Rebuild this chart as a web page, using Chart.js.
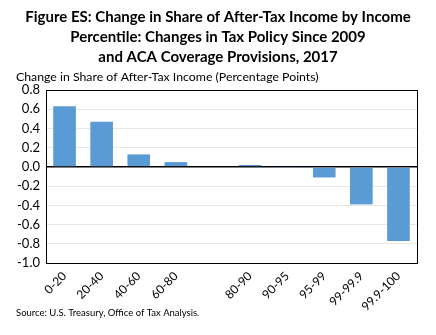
<!DOCTYPE html>
<html>
<head>
<meta charset="utf-8">
<script src="https://cdn.jsdelivr.net/npm/chart.js@4"></script>
<style>
  html, body { margin: 0; padding: 0; background: #fff; }
  #wrap { width: 436px; height: 335px; position: relative; }
</style>
</head>
<body>
<div id="wrap"><canvas id="chart" width="436" height="335"></canvas></div>
<script>
// data (blank slot between 60-80 and 80-90 is part of the original)
const categorias = ['0-20', '20-40', '40-60', '60-80', '', '80-90', '90-95', '95-99', '99-99.9', '99.9-100'];
const cambios = [0.63, 0.47, 0.13, 0.05, null, 0.02, -0.01, -0.11, -0.39, -0.77];
const ticksY = [0.8, 0.6, 0.4, 0.2, 0.0, -0.2, -0.4, -0.6, -0.8, -1.0];

const tituloLineas = [
    'Figure ES: Change in Share of After-Tax Income by Income',
    'Percentile: Changes in Tax Policy Since 2009',
    'and ACA Coverage Provisions, 2017'
];
const etiquetaEje = 'Change in Share of After-Tax Income (Percentage Points)';
const fuente = 'Source: U.S. Treasury, Office of Tax Analysis.';

const FUENTE = 'Lato, "Liberation Sans", sans-serif';

const textosPlugin = {
    id: 'textos',
    afterDraw(chart) {
        const ctx = chart.ctx;
        const area = chart.chartArea;
        ctx.save();
        // marco negro alrededor del area
        ctx.strokeStyle = '#000';
        ctx.lineWidth = 1;
        ctx.strokeRect(Math.round(area.left) + 0.5, Math.round(area.top) + 0.5,
            Math.round(area.right - area.left), Math.round(area.bottom - area.top));

        ctx.fillStyle = '#000';
        ctx.textAlign = 'center';
        ctx.textBaseline = 'alphabetic';
        ctx.font = 'bold 15px ' + FUENTE;
        tituloLineas.forEach((t, i) => ctx.fillText(t, 218, 22 + i * 20));

        ctx.textAlign = 'left';
        ctx.font = '12.3px ' + FUENTE;
        ctx.fillText(etiquetaEje, 16, 81);

        ctx.font = '9.5px ' + FUENTE;
        ctx.fillText(fuente, 16, 316);
        ctx.restore();
    }
};

new Chart(document.getElementById('chart'), {
    type: 'bar',
    data: {
        labels: categorias,
        datasets: [{
            data: cambios,
            backgroundColor: '#5B9BD5',
            categoryPercentage: 1.0,
            barPercentage: 0.61,
            minBarLength: 1
        }]
    },
    options: {
        responsive: false,
        animation: false,
        layout: { padding: { left: 0, top: 90, right: 19, bottom: 0 } },
        plugins: {
            legend: { display: false },
            tooltip: { enabled: false }
        },
        scales: {
            x: {
                grid: { display: false, drawTicks: false },
                border: { display: false },
                ticks: {
                    color: '#000',
                    font: { family: FUENTE, size: 12 },
                    minRotation: 45,
                    maxRotation: 45,
                    autoSkip: false,
                    padding: 6
                },
                afterFit(s) { s.height = 72; }
            },
            y: {
                min: -1.0,
                max: 0.8,
                afterBuildTicks(s) { s.ticks = ticksY.map(v => ({ value: v })); },
                grid: {
                    color: c => (c.tick && Math.abs(c.tick.value) < 1e-9) ? '#000' : '#e6e6e6',
                    lineWidth: c => (c.tick && Math.abs(c.tick.value) < 1e-9) ? 1.5 : 1,
                    drawTicks: false
                },
                border: { display: false },
                ticks: {
                    color: '#000',
                    font: { family: FUENTE, size: 13 },
                    padding: 6,
                    callback: v => Number(v).toFixed(1)
                },
                afterFit(s) { s.width = 46; }
            }
        }
    },
    plugins: [textosPlugin]
});
</script>
</body>
</html>
